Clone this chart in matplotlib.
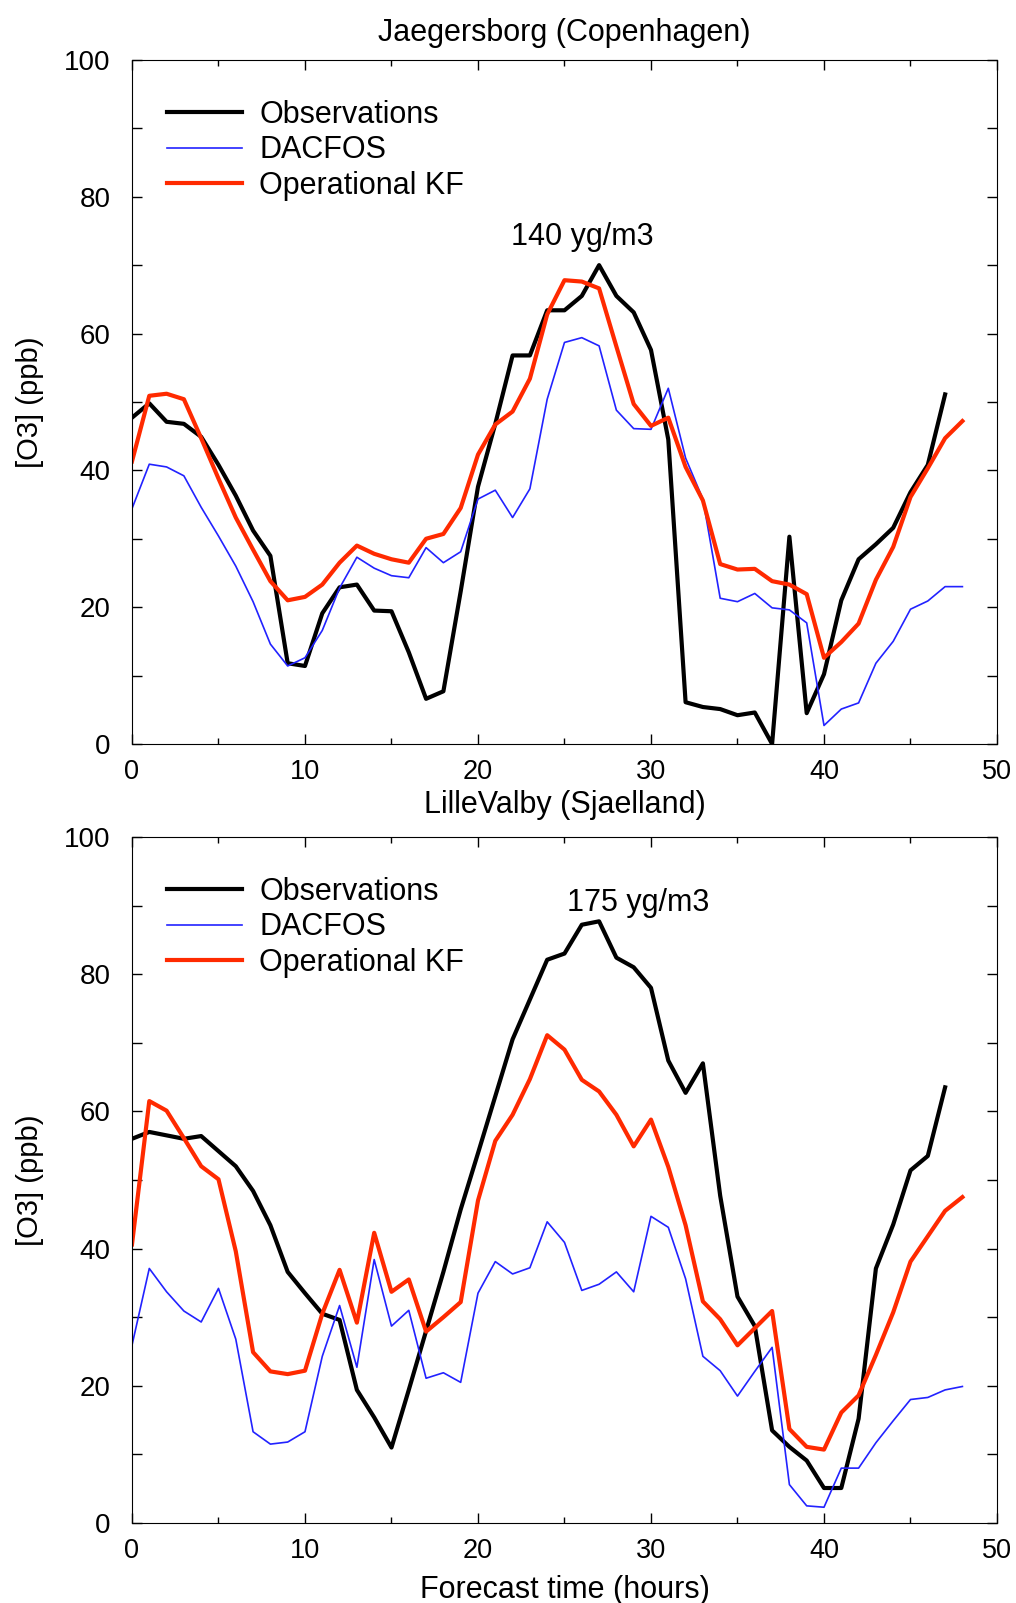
import numpy as np
import matplotlib
matplotlib.use("Agg")
import matplotlib.pyplot as plt
from matplotlib.ticker import MultipleLocator

plt.rcParams['font.family'] = ['Liberation Sans', 'DejaVu Sans']

# forecast hours
hours = list(range(0, 49))

# Jaegersborg (Copenhagen)
obs_top = [47.7, 49.8, 47.1, 46.8, 44.9, 40.8, 36.3, 31.2, 27.5, 11.8,
           11.4, 19.1, 22.9, 23.3, 19.5, 19.4, 13.4, 6.6, 7.7, 22.3,
           37.6, 46.8, 56.8, 56.8, 63.4, 63.4, 65.5, 70.0, 65.5, 63.1,
           57.6, 44.5, 6.1, 5.4, 5.1, 4.2, 4.6, 0.0, 30.3, 4.5,
           10.2, 21.0, 27.0, 29.2, 31.6, 36.8, 40.8, 51.1]
dac_top = [34.4, 40.9, 40.5, 39.2, 34.6, 30.4, 26.0, 20.8, 14.6, 11.4,
           12.6, 16.6, 22.8, 27.3, 25.7, 24.6, 24.3, 28.7, 26.5, 28.1,
           35.8, 37.1, 33.1, 37.3, 50.4, 58.7, 59.4, 58.2, 48.8, 46.1,
           46.0, 52.0, 41.8, 35.8, 21.3, 20.8, 22.0, 19.9, 19.6, 17.7,
           2.7, 5.1, 6.0, 11.8, 15.0, 19.7, 20.9, 23.0, 23.0]
kf_top = [41.3, 50.9, 51.2, 50.4, 44.7, 38.8, 33.1, 28.4, 23.8, 21.0,
          21.5, 23.3, 26.5, 29.0, 27.8, 27.0, 26.5, 30.0, 30.7, 34.5,
          42.3, 46.7, 48.6, 53.4, 62.8, 67.8, 67.6, 66.6, 58.1, 49.7,
          46.5, 47.7, 40.5, 35.6, 26.3, 25.5, 25.6, 23.8, 23.3, 21.9,
          12.6, 14.9, 17.6, 24.0, 28.8, 36.1, 40.3, 44.7, 47.2]

# LilleValby (Sjaelland)
obs_bot = [56.0, 57.0, 56.5, 56.0, 56.4, 54.2, 52.0, 48.4, 43.4, 36.6,
           33.5, 30.5, 29.6, 19.4, 15.4, 11.0, 19.4, 28.0, 36.6, 45.7,
           53.9, 62.2, 70.5, 76.3, 82.1, 83.0, 87.2, 87.7, 82.4, 81.0,
           78.0, 67.4, 62.7, 67.0, 47.7, 33.0, 28.7, 13.5, 11.1, 9.1,
           5.1, 5.1, 15.2, 37.1, 43.5, 51.4, 53.5, 63.5]
dac_bot = [25.9, 37.1, 33.7, 30.9, 29.3, 34.2, 26.8, 13.3, 11.5, 11.8,
           13.3, 24.3, 31.7, 22.7, 38.4, 28.7, 31.0, 21.1, 21.9, 20.5,
           33.5, 38.1, 36.3, 37.2, 43.9, 40.9, 33.9, 34.8, 36.6, 33.7,
           44.7, 43.1, 35.6, 24.3, 22.2, 18.5, 22.1, 25.6, 5.6, 2.5,
           2.3, 8.0, 8.0, 11.7, 14.9, 18.0, 18.3, 19.4, 19.9]
kf_bot = [40.6, 61.5, 60.1, 56.1, 52.0, 50.1, 39.6, 24.9, 22.1, 21.7,
          22.2, 30.5, 36.9, 29.2, 42.3, 33.7, 35.5, 27.9, 30.0, 32.2,
          47.0, 55.7, 59.5, 64.7, 71.1, 69.0, 64.6, 62.9, 59.5, 54.9,
          58.8, 51.9, 43.4, 32.3, 29.7, 25.9, 28.4, 30.9, 13.7, 11.1,
          10.7, 16.1, 18.6, 24.5, 30.7, 38.1, 41.8, 45.5, 47.5]

fig = plt.figure(figsize=(10.16, 16.03), dpi=100)
ax1 = fig.add_axes([0.1299, 0.5359, 0.8514, 0.4267])
ax2 = fig.add_axes([0.1299, 0.0499, 0.8514, 0.4280])

panels = [
    (ax1, obs_top, dac_top, kf_top, "140 yg/m3", (26.05, 74.1)),
    (ax2, obs_bot, dac_bot, kf_bot, "175 yg/m3", (29.25, 90.3)),
]

for ax, obs, dac, kf, note, pos in panels:
    ax.plot(hours[:len(obs)], obs, color="black", lw=3.0, label="Observations")
    ax.plot(hours, dac, color="#2222ff", lw=1.2, label="DACFOS")
    ax.plot(hours, kf, color="#ff2a00", lw=3.0, label="Operational KF")
    ax.set_xlim(0, 50)
    ax.set_ylim(0, 100)
    ax.xaxis.set_major_locator(MultipleLocator(10))
    ax.xaxis.set_minor_locator(MultipleLocator(5))
    ax.yaxis.set_major_locator(MultipleLocator(20))
    ax.yaxis.set_minor_locator(MultipleLocator(10))
    ax.tick_params(which="both", direction="in", top=True, right=True, width=1)
    ax.tick_params(axis="y", which="both", length=7.5, pad=15.5, labelsize=20)
    ax.tick_params(axis="x", which="major", length=7.5, pad=11, labelsize=19.5)
    ax.tick_params(axis="x", which="minor", length=4)
    ax.set_ylabel("[O3] (ppb)", fontsize=21, labelpad=14.5)
    ax.text(pos[0], pos[1], note, fontsize=22, ha="center", va="center")
    ax.legend(loc="upper left", frameon=False, fontsize=22,
              bbox_to_anchor=(0.009, 0.982), handlelength=2.43,
              handletextpad=0.58, labelspacing=0.18)

ax1.set_title("Jaegersborg (Copenhagen)", fontsize=22, pad=13.5)
ax1.set_xlabel("LilleValby (Sjaelland)", fontsize=22, labelpad=3.5)
ax2.set_xlabel("Forecast time (hours)", fontsize=22, labelpad=7.5)

fig.savefig("out.png", dpi=100)
